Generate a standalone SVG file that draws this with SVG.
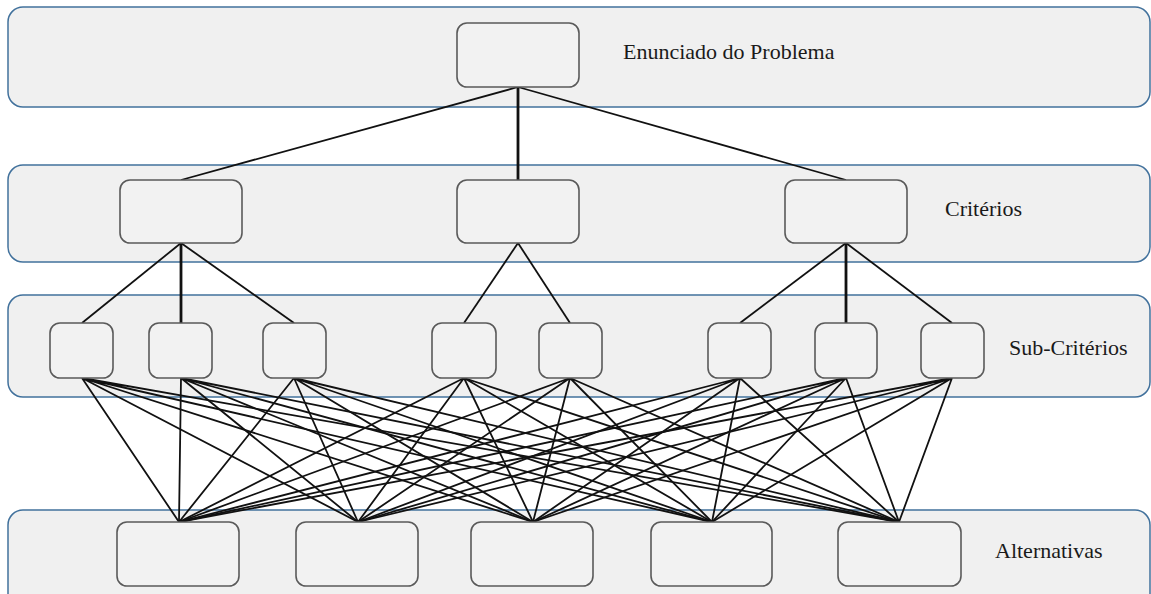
<svg xmlns="http://www.w3.org/2000/svg" width="1151" height="594" viewBox="0 0 1151 594">
<style>
.band{fill:#f0f0f0;stroke:#41719c;stroke-width:1.5}
.node{fill:#f2f2f2;stroke:#5a5a5a;stroke-width:1.6}
.lbl{font-family:"Liberation Serif","Times New Roman",serif;font-size:22px;fill:#1a1a1a}
.c{stroke:#111;stroke-width:1.8;fill:none}
.ct{stroke:#111;stroke-width:2.8;fill:none}
</style>
<g id="bands">
<rect id="band-problema" class="band" x="8" y="7" width="1142" height="100" rx="15"/>
<rect id="band-criterios" class="band" x="8" y="165" width="1142" height="97" rx="15"/>
<rect id="band-subcriterios" class="band" x="8" y="295" width="1142" height="102" rx="15"/>
<rect id="band-alternativas" class="band" x="8" y="510" width="1142" height="110" rx="15"/>
</g>
<g id="connectors">
<line class="c" x1="518" y1="87" x2="181" y2="180"/>
<line class="ct" x1="518" y1="87" x2="518" y2="180"/>
<line class="c" x1="518" y1="87" x2="846" y2="180"/>
<line class="c" x1="181" y1="243" x2="82" y2="323"/>
<line class="ct" x1="181" y1="243" x2="181" y2="323"/>
<line class="c" x1="181" y1="243" x2="294" y2="323"/>
<line class="c" x1="518" y1="243" x2="464" y2="323"/>
<line class="c" x1="518" y1="243" x2="570" y2="323"/>
<line class="c" x1="846" y1="243" x2="740" y2="323"/>
<line class="ct" x1="846" y1="243" x2="846" y2="323"/>
<line class="c" x1="846" y1="243" x2="952" y2="323"/>
<g id="sub-alt">
<path class="c" d="M82 378L179 522M82 378L358 522M82 378L533 522M82 378L712 522M82 378L899 522"/>
<path class="c" d="M181 378L179 522M181 378L358 522M181 378L533 522M181 378L712 522M181 378L899 522"/>
<path class="c" d="M294 378L179 522M294 378L358 522M294 378L533 522M294 378L712 522M294 378L899 522"/>
<path class="c" d="M464 378L179 522M464 378L358 522M464 378L533 522M464 378L712 522M464 378L899 522"/>
<path class="c" d="M570 378L179 522M570 378L358 522M570 378L533 522M570 378L712 522M570 378L899 522"/>
<path class="c" d="M740 378L179 522M740 378L358 522M740 378L533 522M740 378L712 522M740 378L899 522"/>
<path class="c" d="M846 378L179 522M846 378L358 522M846 378L533 522M846 378L712 522M846 378L899 522"/>
<path class="c" d="M952 378L179 522M952 378L358 522M952 378L533 522M952 378L712 522M952 378L899 522"/>
</g>
</g>
<g id="node-problema"><rect class="node" x="457" y="23" width="122" height="64" rx="10"/></g>
<g id="node-c1"><rect class="node" x="120" y="180" width="122" height="63" rx="10"/></g>
<g id="node-c2"><rect class="node" x="457" y="180" width="122" height="63" rx="10"/></g>
<g id="node-c3"><rect class="node" x="785" y="180" width="122" height="63" rx="10"/></g>
<g id="node-s1"><rect class="node" x="50" y="323" width="63" height="55" rx="10"/></g>
<g id="node-s2"><rect class="node" x="149" y="323" width="63" height="55" rx="10"/></g>
<g id="node-s3"><rect class="node" x="263" y="323" width="63" height="55" rx="10"/></g>
<g id="node-s4"><rect class="node" x="432" y="323" width="64" height="55" rx="10"/></g>
<g id="node-s5"><rect class="node" x="539" y="323" width="63" height="55" rx="10"/></g>
<g id="node-s6"><rect class="node" x="708" y="323" width="63" height="55" rx="10"/></g>
<g id="node-s7"><rect class="node" x="815" y="323" width="62" height="55" rx="10"/></g>
<g id="node-s8"><rect class="node" x="921" y="323" width="63" height="55" rx="10"/></g>
<g id="node-a1"><rect class="node" x="117" y="522" width="122" height="64" rx="10"/></g>
<g id="node-a2"><rect class="node" x="296" y="522" width="122" height="64" rx="10"/></g>
<g id="node-a3"><rect class="node" x="471" y="522" width="122" height="64" rx="10"/></g>
<g id="node-a4"><rect class="node" x="651" y="522" width="121" height="64" rx="10"/></g>
<g id="node-a5"><rect class="node" x="838" y="522" width="123" height="64" rx="10"/></g>
<g id="labels">
<text class="lbl" x="623" y="59">Enunciado do Problema</text>
<text class="lbl" x="945" y="216">Critérios</text>
<text class="lbl" x="1009" y="355">Sub-Critérios</text>
<text class="lbl" x="995" y="558">Alternativas</text>
</g>
</svg>
